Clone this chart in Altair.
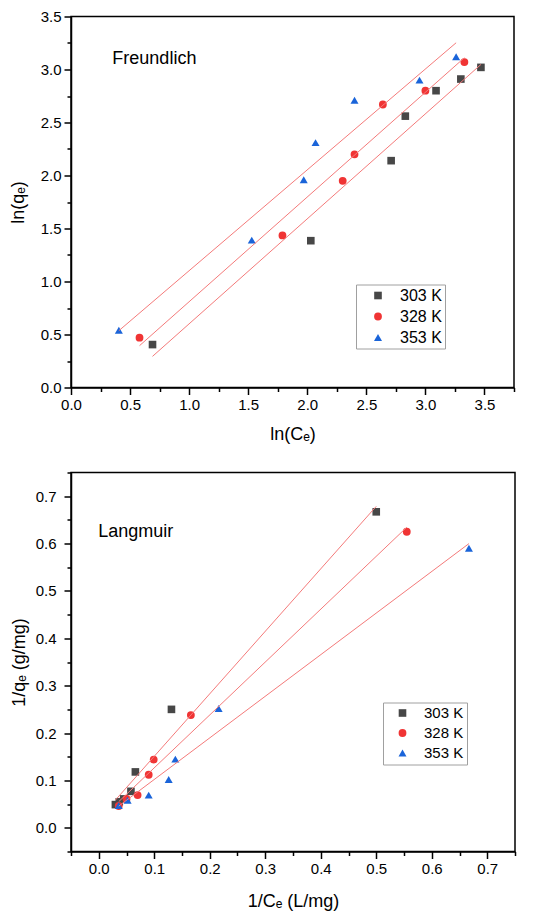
import altair as alt
import pandas as pd

series = ["303 K", "328 K", "353 K"]
colors = ["#474747", "#f03434", "#1a64d9"]
shapes = ["square", "circle", "triangle-up"]
sizes = [58, 64, 88]

# Freundlich: ln(Ce) vs ln(qe)
f_x_303 = [0.69, 2.03, 2.71, 2.83, 3.09, 3.30, 3.47]
f_y_303 = [0.405, 1.385, 2.14, 2.56, 2.80, 2.91, 3.02]
f_x_328 = [0.58, 1.79, 2.30, 2.40, 2.64, 3.00, 3.33]
f_y_328 = [0.47, 1.435, 1.95, 2.20, 2.67, 2.80, 3.07]
f_x_353 = [0.405, 1.53, 1.97, 2.07, 2.40, 2.95, 3.26]
f_y_353 = [0.54, 1.39, 1.96, 2.31, 2.71, 2.90, 3.12]

# Langmuir: 1/Ce vs 1/qe
l_x_303 = [0.500, 0.131, 0.066, 0.058, 0.045, 0.037, 0.030]
l_y_303 = [0.667, 0.250, 0.118, 0.077, 0.061, 0.055, 0.049]
l_x_328 = [0.555, 0.166, 0.099, 0.090, 0.070, 0.050, 0.036]
l_y_328 = [0.625, 0.238, 0.144, 0.112, 0.069, 0.061, 0.046]
l_x_353 = [0.667, 0.216, 0.138, 0.126, 0.090, 0.052, 0.036]
l_y_353 = [0.590, 0.252, 0.145, 0.102, 0.069, 0.058, 0.047]

# Axis ticks (all) and labelled major ticks
f_xticks = [0, 0.25, 0.5, 0.75, 1.0, 1.25, 1.5, 1.75, 2.0, 2.25, 2.5, 2.75, 3.0, 3.25, 3.5, 3.75]
f_xmajor = [0, 0.5, 1.0, 1.5, 2.0, 2.5, 3.0, 3.5]
f_yticks = [0, 0.25, 0.5, 0.75, 1.0, 1.25, 1.5, 1.75, 2.0, 2.25, 2.5, 2.75, 3.0, 3.25, 3.5]
f_ymajor = [0, 0.5, 1.0, 1.5, 2.0, 2.5, 3.0, 3.5]
l_ticks = [-0.05, 0, 0.05, 0.1, 0.15, 0.2, 0.25, 0.3, 0.35, 0.4, 0.45, 0.5, 0.55, 0.6, 0.65, 0.7, 0.75]
l_major = [0, 0.1, 0.2, 0.3, 0.4, 0.5, 0.6, 0.7]

FONT = "Liberation Sans"


def frame(xs_list, ys_list):
    rows = []
    for s, xs, ys in zip(series, xs_list, ys_list):
        for a, b in zip(xs, ys):
            rows.append({"x": a, "y": b, "series": s})
    return pd.DataFrame(rows)


def axis(title, ticks, major, tpad, lpad):
    arr = "[" + ",".join(repr(v) for v in major) + "]"
    test = f"indexof({arr}, datum.value) >= 0"
    return alt.Axis(
        title=title, values=ticks, tickCount=100,
        labelExpr=f"({test}) ? format(datum.value, '.1f') : ''",
        tickSize={"condition": {"test": test, "value": 7}, "value": 4},
        labelOverlap=False, labelFlush=False, grid=False, titlePadding=tpad, labelPadding=lpad,
    )


def panel(df, xt, xm, yt, ym, xdom, ydom, xtitle, ytitle, label, lpos, leg, w, h, xtp, ytp, ylp):
    xa = alt.X("x:Q", scale=alt.Scale(domain=xdom, nice=False, zero=False), axis=axis(xtitle, xt, xm, xtp, 3))
    ya = alt.Y("y:Q", scale=alt.Scale(domain=ydom, nice=False, zero=False), axis=axis(ytitle, yt, ym, ytp, ylp))
    pts = alt.Chart(df).mark_point(filled=True, opacity=1).encode(
        x=xa, y=ya,
        color=alt.Color("series:N", scale=alt.Scale(domain=series, range=colors), legend=leg),
        shape=alt.Shape("series:N", scale=alt.Scale(domain=series, range=shapes), legend=leg),
        size=alt.Size("series:N", scale=alt.Scale(domain=series, range=sizes), legend=None),
    )
    lines = alt.Chart(df).transform_regression("x", "y", groupby=["series"]).mark_line(
        color="#f47a7a", strokeWidth=1
    ).encode(x="x:Q", y="y:Q", detail="series:N")
    txt = alt.Chart(pd.DataFrame({"x": [lpos[0]], "y": [lpos[1]], "t": [label]})).mark_text(
        align="left", baseline="middle", font=FONT, fontSize=18, color="black"
    ).encode(x="x:Q", y="y:Q", text="t:N")
    return alt.layer(pts, lines, txt).properties(width=w, height=h)


leg_top = alt.Legend(
    title=None, orient="none", legendX=285, legendY=268, strokeColor="#a0a0a0", fillColor="white",
    padding=3, labelFont=FONT, labelFontSize=16, labelColor="black", symbolSize=64,
    symbolOffset=11, labelOffset=14, rowPadding=5, symbolStrokeWidth=0,
)
leg_bot = alt.Legend(
    title=None, orient="none", legendX=312, legendY=230, strokeColor="#a0a0a0", fillColor="white",
    padding=3, labelFont=FONT, labelFontSize=15, labelColor="black", symbolSize=64,
    symbolOffset=9, labelOffset=14, rowPadding=4, symbolStrokeWidth=0,
)

top = panel(
    frame([f_x_303, f_x_328, f_x_353], [f_y_303, f_y_328, f_y_353]),
    f_xticks, f_xmajor, f_yticks, f_ymajor, [0, 3.75], [0, 3.5],
    "ln(Cₑ)", "ln(qₑ)", "Freundlich", (0.35, 3.095), leg_top, 443, 371, 13, 13, 3,
)
bottom = panel(
    frame([l_x_303, l_x_328, l_x_353], [l_y_303, l_y_328, l_y_353]),
    l_ticks, l_major, l_ticks, l_major, [-0.05, 0.75], [-0.05, 0.75],
    "1/Cₑ (L/mg)", "1/qₑ (g/mg)", "Langmuir", (-0.001, 0.624), leg_bot, 444, 379, 16, 7, 8,
)

chart = alt.vconcat(top, bottom, spacing=20).resolve_scale(
    color="independent", shape="independent", size="independent"
).properties(
    padding={"left": 0, "top": 0.5, "right": 5, "bottom": 0}
).configure_view(stroke="black", strokeWidth=1.5).configure_axis(
    domainColor="black", domainWidth=1.5, tickColor="black", tickWidth=1.5,
    labelFont=FONT, labelFontSize=15, labelColor="black",
    titleFont=FONT, titleFontSize=18, titleFontWeight="normal", titleColor="black",
)

chart.save("out.html", embed_options={"renderer": "svg", "actions": False})
